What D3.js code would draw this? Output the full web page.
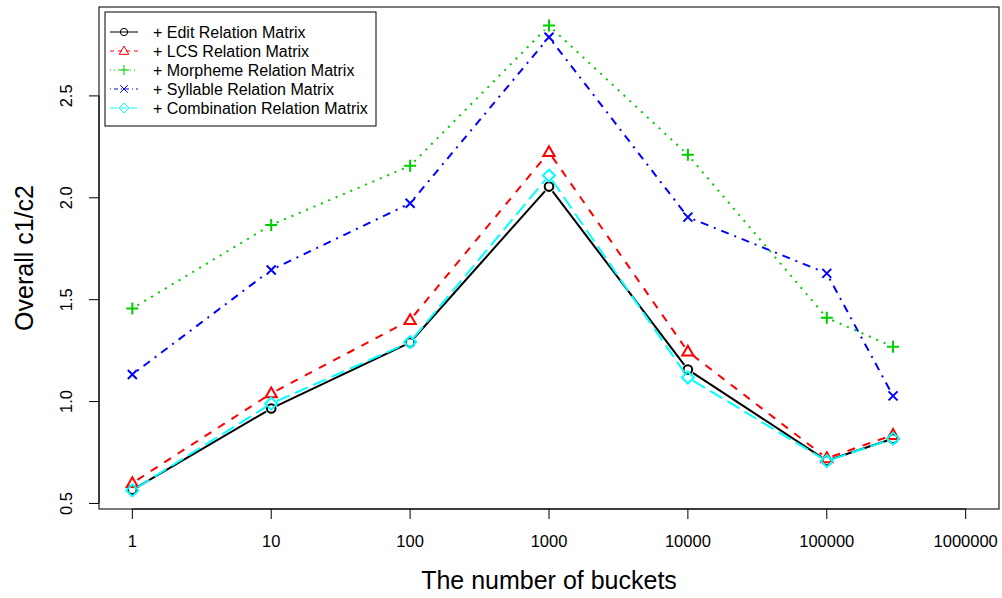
<!DOCTYPE html>
<html>
<head>
<meta charset="utf-8">
<script src="https://cdn.jsdelivr.net/npm/d3@7"></script>
<style>
  html, body { margin: 0; padding: 0; background: #fff; }
  svg { display: block; font-family: "Liberation Sans", Arial, Helvetica, sans-serif; }
</style>
</head>
<body>
<svg id="chart" width="1002" height="598"></svg>
<script>
// number of buckets (log x axis)
const buckets = [1, 10, 100, 1000, 10000, 100000, 300000];

// overall c1/c2 for each relation matrix
const editValues        = [0.567, 0.966, 1.290, 2.055, 1.157, 0.710, 0.818];
const lcsValues         = [0.600, 1.040, 1.400, 2.224, 1.245, 0.722, 0.836];
const morphemeValues    = [1.457, 1.867, 2.157, 2.845, 2.211, 1.411, 1.269];
const syllableValues    = [1.133, 1.646, 1.973, 2.788, 1.905, 1.629, 1.028];
const combinationValues = [0.564, 0.990, 1.292, 2.109, 1.118, 0.708, 0.818];

const seriesNames = ['+ Edit Relation Matrix', '+ LCS Relation Matrix', '+ Morpheme Relation Matrix',
	'+ Syllable Relation Matrix', '+ Combination Relation Matrix'];

const xTicks = [1, 10, 100, 1000, 10000, 100000, 1000000];
const yTicks = [0.5, 1.0, 1.5, 2.0, 2.5];

// style per series, in R's lty / pch order
const styles = [
	{color: '#000000', dash: null,        pch: 'circle'},
	{color: '#FF0000', dash: [4, 4],      pch: 'triangle'},
	{color: '#00CD00', dash: [1, 3],      pch: 'plus'},
	{color: '#0000FF', dash: [1, 3, 4, 3], pch: 'cross'},
	{color: '#00FFFF', dash: [7, 3],      pch: 'diamond'}
];

const series = [editValues, lcsValues, morphemeValues, syllableValues, combinationValues]
	.map((values, i) => ({
		name: seriesNames[i],
		style: styles[i],
		points: values.map((v, j) => ({x: buckets[j], y: v}))
	}));

const plotLeft = 99, plotRight = 999, plotTop = 7, plotBottom = 509;

const svg = d3.select('#chart');

// R style 4% padding of the ranges
const xPad = 0.04 * 6;
const x = d3.scaleLog()
	.domain([Math.pow(10, -xPad), Math.pow(10, 6 + xPad)])
	.range([plotLeft, plotRight]);

const allY = series.flatMap(s => s.points.map(p => p.y));
const yExt = d3.extent(allY);
const yPad = 0.04 * (yExt[1] - yExt[0]);
const y = d3.scaleLinear()
	.domain([yExt[0] - yPad, yExt[1] + yPad])
	.range([plotBottom, plotTop]);

// symbols
function drawSymbol(g, pch, cx, cy, color, lw, k) {
	k = k || 1;
	if (pch === 'circle') {
		g.append('circle').attr('cx', cx).attr('cy', cy).attr('r', 4.3 * k)
			.attr('fill', 'none').attr('stroke', color).attr('stroke-width', lw);
	} else if (pch === 'triangle') {
		const s = 5.6 * k;
		g.append('path')
			.attr('d', `M${cx},${cy - s * 1.05}L${cx + s},${cy + s * 0.7}L${cx - s},${cy + s * 0.7}Z`)
			.attr('fill', 'none').attr('stroke', color).attr('stroke-width', lw);
	} else if (pch === 'plus') {
		const s = 6 * k;
		g.append('path')
			.attr('d', `M${cx - s},${cy}H${cx + s}M${cx},${cy - s}V${cy + s}`)
			.attr('stroke', color).attr('stroke-width', lw);
	} else if (pch === 'cross') {
		const s = 4.5 * k;
		g.append('path')
			.attr('d', `M${cx - s},${cy - s}L${cx + s},${cy + s}M${cx - s},${cy + s}L${cx + s},${cy - s}`)
			.attr('stroke', color).attr('stroke-width', lw);
	} else if (pch === 'diamond') {
		const s = 6 * k;
		g.append('path')
			.attr('d', `M${cx},${cy - s}L${cx + s},${cy}L${cx},${cy + s}L${cx - s},${cy}Z`)
			.attr('fill', 'none').attr('stroke', color).attr('stroke-width', lw);
	}
}

// type = "b": segments with a gap around each point
const gap = 6;
const lwd = 2;
series.forEach(s => {
	const g = svg.append('g');
	const pts = s.points.map(p => [x(p.x), y(p.y)]);
	for (let i = 0; i < pts.length - 1; i++) {
		const [x0, y0] = pts[i], [x1, y1] = pts[i + 1];
		const len = Math.hypot(x1 - x0, y1 - y0);
		if (len <= 2 * gap) continue;
		const ux = (x1 - x0) / len, uy = (y1 - y0) / len;
		g.append('line')
			.attr('x1', x0 + ux * gap).attr('y1', y0 + uy * gap)
			.attr('x2', x1 - ux * gap).attr('y2', y1 - uy * gap)
			.attr('stroke', s.style.color)
			.attr('stroke-width', lwd)
			.attr('stroke-dasharray', s.style.dash ? s.style.dash.map(d => d * lwd).join(' ') : null);
	}
	pts.forEach(([px, py]) => drawSymbol(g, s.style.pch, px, py, s.style.color, lwd));
});

// box
svg.append('rect')
	.attr('x', plotLeft).attr('y', plotTop)
	.attr('width', plotRight - plotLeft).attr('height', plotBottom - plotTop)
	.attr('fill', 'none').attr('stroke', '#222').attr('stroke-width', 1.2);

// x axis
const xAxis = svg.append('g');
xAxis.append('line')
	.attr('x1', x(xTicks[0])).attr('x2', x(xTicks[xTicks.length - 1]))
	.attr('y1', plotBottom).attr('y2', plotBottom)
	.attr('stroke', '#000');
xTicks.forEach(t => {
	xAxis.append('line')
		.attr('x1', x(t)).attr('x2', x(t))
		.attr('y1', plotBottom).attr('y2', plotBottom + 10)
		.attr('stroke', '#000');
	xAxis.append('text')
		.attr('x', x(t)).attr('y', 547)
		.attr('text-anchor', 'middle')
		.attr('font-size', 16.5)
		.text(String(t));
});

// y axis
const yAxis = svg.append('g');
yAxis.append('line')
	.attr('x1', plotLeft).attr('x2', plotLeft)
	.attr('y1', y(yTicks[0])).attr('y2', y(yTicks[yTicks.length - 1]))
	.attr('stroke', '#000');
yTicks.forEach(t => {
	yAxis.append('line')
		.attr('x1', plotLeft - 10).attr('x2', plotLeft)
		.attr('y1', y(t)).attr('y2', y(t))
		.attr('stroke', '#000');
	yAxis.append('text')
		.attr('transform', `translate(72,${y(t)}) rotate(-90)`)
		.attr('text-anchor', 'middle')
		.attr('font-size', 16.5)
		.text(t.toFixed(1));
});

// axis titles
svg.append('text')
	.attr('x', (plotLeft + plotRight) / 2).attr('y', 589)
	.attr('text-anchor', 'middle')
	.attr('font-size', 25)
	.text('The number of buckets');

svg.append('text')
	.attr('transform', `translate(33,${(plotTop + plotBottom) / 2}) rotate(-90)`)
	.attr('text-anchor', 'middle')
	.attr('font-size', 25)
	.text('Overall c1/c2');

// legend
const legend = svg.append('g');
legend.append('rect')
	.attr('x', 105).attr('y', 12)
	.attr('width', 271).attr('height', 114)
	.attr('fill', '#fff').attr('stroke', '#000').attr('stroke-width', 1);

series.forEach((s, i) => {
	const ly = 32 + i * 19;
	legend.append('line')
		.attr('x1', 110).attr('x2', 138)
		.attr('y1', ly).attr('y2', ly)
		.attr('stroke', s.style.color)
		.attr('stroke-width', 1)
		.attr('stroke-dasharray', s.style.dash ? s.style.dash.join(' ') : null);
	drawSymbol(legend, s.style.pch, 124, ly, s.style.color, 1, 0.85);
	legend.append('text')
		.attr('x', 153).attr('y', ly + 5.5)
		.attr('font-size', 16)
		.text(s.name);
});
</script>
</body>
</html>
